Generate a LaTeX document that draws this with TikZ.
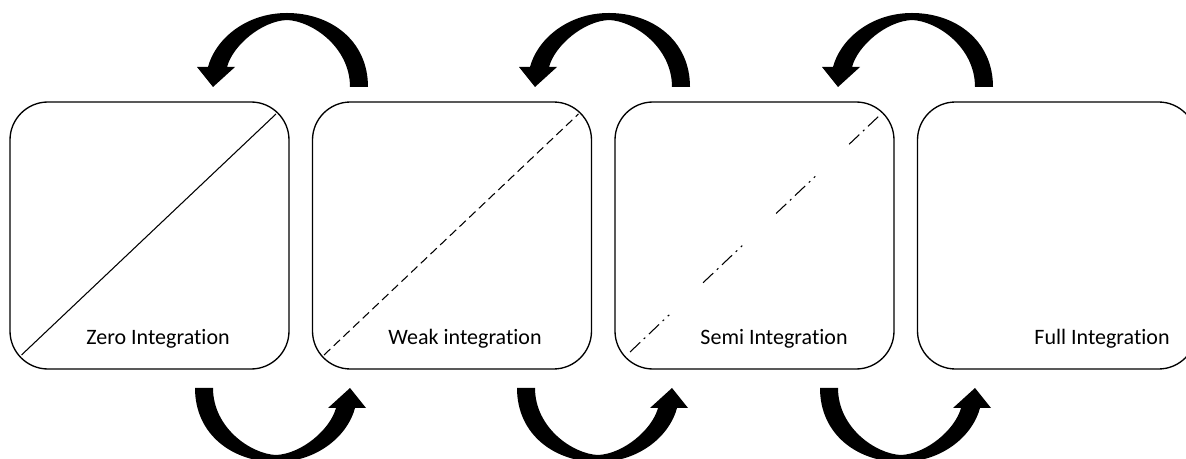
\documentclass[tikz,border=0pt]{standalone}
\usepackage{fontspec}
\setmainfont{Carlito}[Ligatures={NoCommon}]
\usetikzlibrary{calc}
\begin{document}
\begin{tikzpicture}[x=0.75pt,y=-0.75pt,
  stage/.style={draw, line width=1pt, rounded corners=28.5pt,
    minimum width=209.25pt, minimum height=200.25pt,
    inner sep=0pt, outer sep=0pt, anchor=north west},
  stagetext/.style={font=\fontsize{16.5}{20}\selectfont, anchor=base, inner sep=0pt},
  diag/.style={line width=0.8pt},
  weakline/.style={diag, dash pattern=on 6.5pt off 3.5pt},
  semiline/.style={diag, dash pattern=on 10.5pt off 3.75pt on 1.5pt off 3.75pt on 10.5pt off 3.75pt on 1.5pt off 3.75pt on 1.5pt off 35pt},
  cyclearrow/.pic={
    \fill[black] (0,0)
      .. controls (0,-47) and (-38,-74) .. (-81,-74)
      .. controls (-123,-74) and (-153,-47) .. (-160,-20)
      -- (-171,-20) -- (-155,0) -- (-133,-20) -- (-141,-20)
      .. controls (-135,-42) and (-106,-66) .. (-81,-67)
      .. controls (-56,-66) and (-18,-40) .. (-18,0)
      -- cycle;
  }
]
\useasboundingbox (0,0) rectangle (1186,459);
\clip (0,0) rectangle (1186,459);

% stage boxes
\node[stage] (z) at (10,102) {};
\node[stage] (w) at (312.5,102) {};
\node[stage] (s) at (615,102) {};
\node[stage] (f) at (917.5,102) {};

% diagonals showing the degree of integration
\draw[diag]     ($(z.south west)+(11.5,-14)$) -- ($(z.north east)+(-13,12)$);
\draw[weakline] ($(w.south west)+(11.5,-14)$) -- ($(w.north east)+(-13,12)$);
\draw[semiline] ($(s.south west)+(15,-17)$) -- ($(s.north east)+(-14,13)$);

% stage labels
\node[stagetext] (zt) at (158,345) {Zero Integration};
\node[stagetext] (wt) at (465,345) {Weak integration};
\node[stagetext] (st) at (774,345) {Semi Integration};
\node[stagetext] (ft) at (1102,345) {Full Integration};

% curved arrows above (backward) and below (forward)
\pic at (368,87) {cyclearrow};
\pic at (690,87) {cyclearrow};
\pic at (993,87) {cyclearrow};
\pic[rotate=180] at (195,388) {cyclearrow};
\pic[rotate=180] at (517,388) {cyclearrow};
\pic[rotate=180] at (820,388) {cyclearrow};
\end{tikzpicture}
\end{document}
